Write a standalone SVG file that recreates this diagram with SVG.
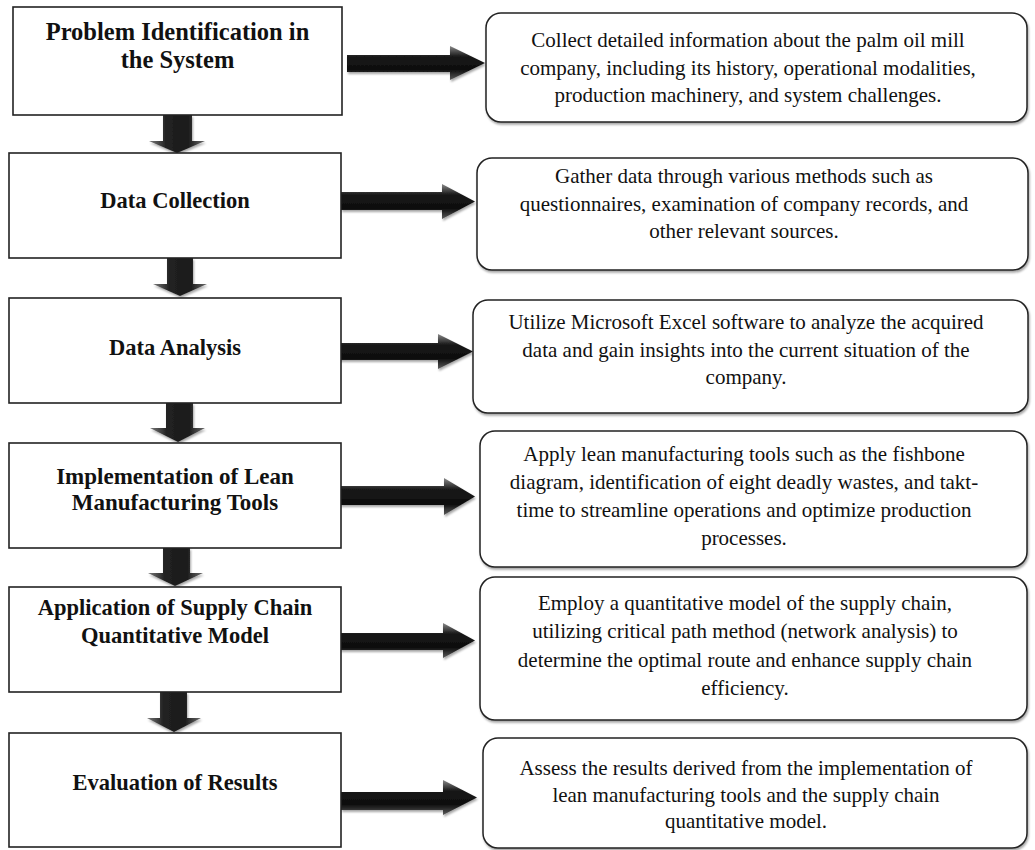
<svg xmlns="http://www.w3.org/2000/svg" width="1035" height="850" viewBox="0 0 1035 850">
<defs>
<linearGradient id="gh" x1="0" y1="0" x2="0" y2="1">
<stop offset="0" stop-color="#8a8a8a"/>
<stop offset="0.3" stop-color="#1a1a1a"/>
<stop offset="0.7" stop-color="#0d0d0d"/>
<stop offset="1" stop-color="#5a5a5a"/>
</linearGradient>
<linearGradient id="gv" x1="0" y1="0" x2="1" y2="0">
<stop offset="0" stop-color="#7a7a7a"/>
<stop offset="0.3" stop-color="#222"/>
<stop offset="0.7" stop-color="#1a1a1a"/>
<stop offset="1" stop-color="#6a6a6a"/>
</linearGradient>
<filter id="sh" x="-10%" y="-10%" width="130%" height="140%">
<feDropShadow dx="1" dy="2" stdDeviation="1.2" flood-color="#000" flood-opacity="0.35"/>
</filter>
</defs>
<style>
.lb{fill:#fff;stroke:#222;stroke-width:1.6}
.rb{fill:#fff;stroke:#222;stroke-width:1.5;filter:url(#sh)}
.lt{font-family:"Liberation Serif","Times New Roman",serif;font-weight:bold;font-size:22.5px;fill:#111;text-anchor:middle}
.rt{font-family:"Liberation Serif","Times New Roman",serif;font-size:21px;fill:#111;text-anchor:middle}
.ah{fill:url(#gh);filter:url(#sh)}
.av{fill:url(#gv);filter:url(#sh)}
</style>
<rect width="1035" height="850" fill="#fff"/>

<g id="connectors">
<polygon class="ah" points="347,55 450,55 450,46 485,63 450,80 450,72 347,72"/>
<polygon class="ah" points="341,192 442,192 442,184 475,201.5 442,219 442,210 341,210"/>
<polygon class="ah" points="336,343 438,343 438,334 473,351.5 438,369 438,360 336,360"/>
<polygon class="ah" points="340,486 444,486 444,478 475,496.5 444,515 444,505 340,505"/>
<polygon class="ah" points="340,633 443,633 443,623 475,640.5 443,658 443,650 340,650"/>
<polygon class="ah" points="341,792 443,792 443,780 477,797.5 443,815 443,810 341,810"/>
<polygon class="av" points="163,115 192,115 192,141 205,141 177,153 149,141 163,141"/>
<polygon class="av" points="167,258 193,258 193,284 207,284 180,296 153,284 167,284"/>
<polygon class="av" points="166,403 193,403 193,428 205,428 178,442 150,428 166,428"/>
<polygon class="av" points="163,548 190,548 190,573 203,573 175,586 148,573 163,573"/>
<polygon class="av" points="160,692 187,692 187,718 201,718 174,732 147,718 160,718"/>
</g>

<g id="n1">
<rect class="lb" x="13" y="7" width="329" height="108"/>
<text class="lt" x="177.5" y="40" style="font-size:24.5px">Problem Identification in</text>
<text class="lt" x="177.5" y="68" style="font-size:24.5px">the System</text>
</g>
<g id="n2">
<rect class="lb" x="9" y="153" width="332" height="105"/>
<text class="lt" x="175" y="208">Data Collection</text>
</g>
<g id="n3">
<rect class="lb" x="9" y="298" width="332" height="105"/>
<text class="lt" x="175" y="355">Data Analysis</text>
</g>
<g id="n4">
<rect class="lb" x="9" y="443" width="332" height="105"/>
<text class="lt" x="175" y="484" style="font-size:23px">Implementation of Lean</text>
<text class="lt" x="175" y="510" style="font-size:23px">Manufacturing Tools</text>
</g>
<g id="n5">
<rect class="lb" x="9" y="587" width="332" height="105"/>
<text class="lt" x="175" y="615">Application of Supply Chain</text>
<text class="lt" x="175" y="643">Quantitative Model</text>
</g>
<g id="n6">
<rect class="lb" x="9" y="733" width="332" height="114"/>
<text class="lt" x="175" y="790">Evaluation of Results</text>
</g>

<g id="d1">
<rect class="rb" x="486" y="13" width="541" height="109" rx="15"/>
<text class="rt" x="748" y="47">Collect detailed information about the palm oil mill</text>
<text class="rt" x="748" y="75">company, including its history, operational modalities,</text>
<text class="rt" x="748" y="102">production machinery, and system challenges.</text>
</g>
<g id="d2">
<rect class="rb" x="477" y="158" width="551" height="112" rx="15"/>
<text class="rt" x="744" y="183">Gather data through various methods such as</text>
<text class="rt" x="744" y="211">questionnaires, examination of company records, and</text>
<text class="rt" x="744" y="238">other relevant sources.</text>
</g>
<g id="d3">
<rect class="rb" x="473" y="300" width="555" height="113" rx="15"/>
<text class="rt" x="746" y="329">Utilize Microsoft Excel software to analyze the acquired</text>
<text class="rt" x="746" y="357">data and gain insights into the current situation of the</text>
<text class="rt" x="746" y="384">company.</text>
</g>
<g id="d4">
<rect class="rb" x="480" y="431" width="547" height="136" rx="15"/>
<text class="rt" x="744" y="461">Apply lean manufacturing tools such as the fishbone</text>
<text class="rt" x="744" y="489">diagram, identification of eight deadly wastes, and takt-</text>
<text class="rt" x="744" y="517">time to streamline operations and optimize production</text>
<text class="rt" x="744" y="545">processes.</text>
</g>
<g id="d5">
<rect class="rb" x="480" y="577" width="547" height="143" rx="15"/>
<text class="rt" x="745" y="610">Employ a quantitative model of the supply chain,</text>
<text class="rt" x="745" y="638">utilizing critical path method (network analysis) to</text>
<text class="rt" x="745" y="667">determine the optimal route and enhance supply chain</text>
<text class="rt" x="745" y="695">efficiency.</text>
</g>
<g id="d6">
<rect class="rb" x="483" y="738" width="544" height="110" rx="15"/>
<text class="rt" x="746" y="775">Assess the results derived from the implementation of</text>
<text class="rt" x="746" y="802">lean manufacturing tools and the supply chain</text>
<text class="rt" x="746" y="828">quantitative model.</text>
</g>
</svg>
